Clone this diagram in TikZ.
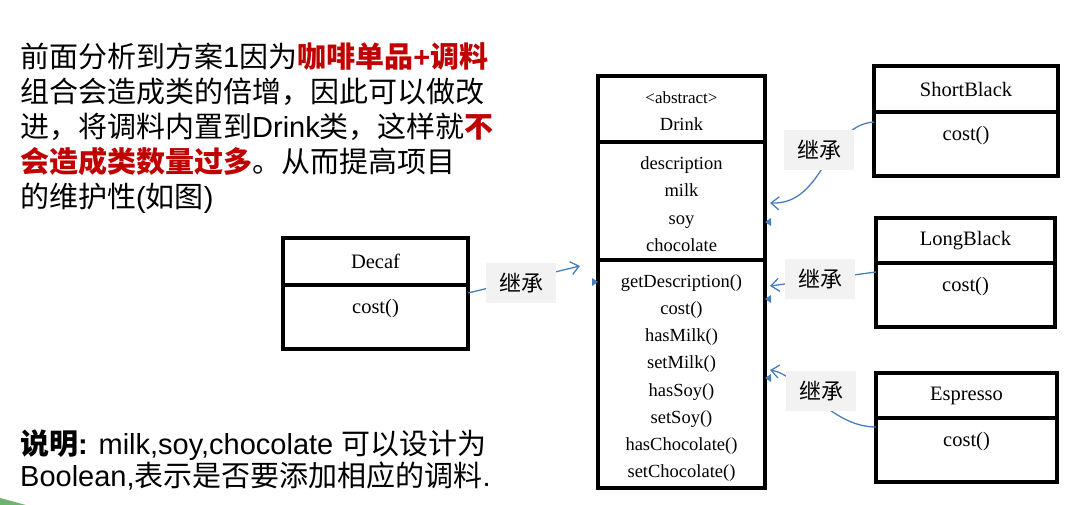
\documentclass[tikz,border=0pt]{standalone}
\usepackage{fontspec}
\setmainfont{Liberation Serif}
\setsansfont{Liberation Sans}
\newfontfamily\cjk{Noto Sans CJK SC}
\usetikzlibrary{arrows.meta, positioning, calc}
\definecolor{clrInh}{RGB}{74,126,187}
\definecolor{clrRed}{RGB}{192,0,0}
\definecolor{lblbg}{RGB}{242,242,242}
\definecolor{clrLeaf}{RGB}{110,180,110}
\newcommand{\zh}[1]{{\cjk #1}}
\newcommand{\hl}[1]{\textcolor{clrRed}{\bfseries #1}}
\tikzset{
  clshead/.style={rectangle, draw=black, line width=3.2pt, outer sep=0pt, inner sep=0pt,
    font=\fontsize{20.5}{24}\selectfont},
  clsbody/.style={rectangle, draw=black, line width=3.2pt, outer sep=0pt, inner sep=0pt,
    text height=28.5pt, text depth=35.5pt, font=\fontsize{20.5}{24}\selectfont},
  drinkpart/.style={rectangle, draw=black, line width=3.2pt, outer sep=0pt, inner sep=0pt,
    minimum width=167pt, align=center, font=\fontsize{18.5}{27.2}\selectfont},
  inh/.style={draw=clrInh, line width=1.3pt,
    -{Straight Barb[length=8pt,width=13pt,line width=1.3pt]}},
  inhlbl/.style={fill=lblbg, minimum width=70pt, minimum height=40pt, inner sep=0pt,
    font=\cjk\fontsize{22}{22}\selectfont},
  handle/.style={fill=clrInh},
  slidetxt/.style={anchor=north west, inner sep=0pt, align=left,
    font=\sffamily\fontsize{29}{35}\selectfont},
}
\begin{document}
\begin{tikzpicture}[x=1pt,y=-1pt]
\fill[white] (0,0) rectangle (1065,505);
\useasboundingbox (0,0) rectangle (1065,505);
% slide text
\node[slidetxt] (intro) at (20,42)
 {\zh{前面分析到方案}1\zh{因为}\hl{\zh{咖啡单品}+\zh{调料}}\\\zh{组合会造成类的倍增，因此可以做改}\\\zh{进，将调料内置到}Drink\zh{类，这样就}\hl{\zh{不}}\\\hl{\zh{会造成类数量过多}}\zh{。从而提高项目}\\\zh{的维护性}(\zh{如图})};
\node[slidetxt, font=\sffamily\fontsize{29}{30}\selectfont] (note) at (20,430)
 {\textbf{\zh{说明}:} milk,soy,chocolate \zh{可以设计为}\\Boolean,\zh{表示是否要添加相应的调料}.};
% Drink class
\node[drinkpart, minimum height=66pt] (drinkhead) at (681.5,109)
 {{\fontsize{17}{18}\selectfont\rule{0pt}{16pt}<abstract>}\\Drink};
\node[drinkpart, minimum height=118pt, below=0pt of drinkhead] (drinkattr)
 {\rule{0pt}{19pt}description\\milk\\soy\\chocolate};
\node[drinkpart, minimum height=228pt, below=0pt of drinkattr] (drinkops)
 {\rule{0pt}{21pt}getDescription()\\cost()\\hasMilk()\\setMilk()\\hasSoy()\\setSoy()\\hasChocolate()\\setChocolate()};
% subclasses
\node[clshead, minimum width=185pt, minimum height=47pt] (decaf) at (375.5,261.5) {Decaf};
\node[clsbody, minimum width=185pt, below=0pt of decaf] (decafops) {cost()};
\node[clshead, minimum width=184pt, minimum height=46pt] (sb) at (966,89) {ShortBlack};
\node[clsbody, minimum width=184pt, below=0pt of sb] (sbops) {cost()};
\node[clshead, minimum width=179pt, minimum height=45pt] (lb) at (965.5,240.5) {LongBlack};
\node[clsbody, minimum width=179pt, below=0pt of lb] (lbops) {cost()};
\node[clshead, minimum width=181pt, minimum height=45pt] (es) at (966.5,395.5) {Espresso};
\node[clsbody, minimum width=181pt, below=0pt of es] (esops) {cost()};
% inheritance
\coordinate (decafTip) at ($(drinkops.north west)+(-18,6)$);
\coordinate (sbTip) at ($(drinkattr.east)+(5,2)$);
\coordinate (lbTip) at ($(drinkops.north east)+(5,26)$);
\coordinate (esTip) at ($(drinkops.north east)+(5,110)$);
\draw[inh] ($(decafops.north east)+(0,8)$) -- (decafTip);
\draw[inh] ($(sbops.north west)+(0,10)$) .. controls +(-48,3) and +(55,2) .. (sbTip);
\draw[inh] ($(lbops.north west)+(0,9)$) -- (lbTip);
\draw[inh] ($(esops.north west)+(0,9)$) .. controls +(-46,0) and +(30,5) .. (esTip);
\node[inhlbl] (lblDecaf) at (521,283) {继承};
\node[inhlbl] (lblSB) at (819,150) {继承};
\node[inhlbl] (lblLB) at (820,279) {继承};
\node[inhlbl] (lblES) at (821,391) {继承};
% connection marks on Drink
\fill[handle] ($(drinkattr.east)+(0,21)$) -- ++(6,-4) -- ++(0,8) -- cycle;
\fill[handle] ($(drinkops.north east)+(0,39)$) -- ++(6,-4) -- ++(0,8) -- cycle;
\fill[handle] ($(drinkops.north east)+(0,118)$) -- ++(6,-4) -- ++(0,8) -- cycle;
\fill[handle] ($(drinkops.north west)+(0,22)$) -- ++(-6,-4) -- ++(0,8) -- cycle;
% slide corner
\fill[clrLeaf] (0,498) -- (26,505) -- (0,505) -- cycle;
\end{tikzpicture}
\end{document}
